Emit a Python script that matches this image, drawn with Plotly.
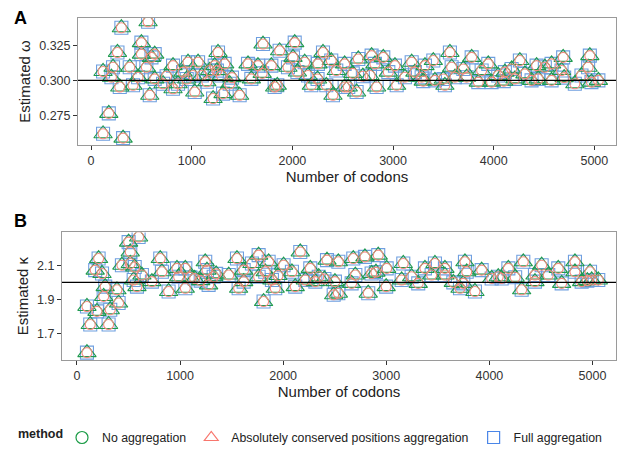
import plotly.graph_objects as go

# ---------------- data ----------------
codons_A = [119, 301, 566, 176, 119, 318, 262, 218, 384, 285, 202, 500, 500, 549, 632, 583, 417, 467, 632,
            814, 814, 715, 963, 1030, 1063, 1013, 914, 864, 1212, 1261, 1311, 1327, 1228, 1377, 1476, 1178,
            1294, 1559, 1592, 1658, 1708, 1791, 1824, 1873, 2023, 2006, 1956, 2188, 2304, 2403, 2386, 2337,
            2122, 2155, 2254, 2436, 2519, 2519, 2655, 2787, 2903, 2638, 2555, 3019, 3036, 2837, 2771, 3185,
            3217, 3317, 3400, 3416, 3515, 3565, 3582, 3698, 3781, 3847, 3946, 3880, 4111, 4178, 4260, 4310,
            4426, 4508, 4442, 4575, 4690, 4674, 4806, 4955, 4938, 4971, 4872, 3979, 4045, 4376, 2820, 2953,
            3118, 3284, 3615, 3731, 4211, 4575, 600, 1100, 1150, 1250, 1700, 1850, 2050, 2250, 2600, 2700,
            3300, 3500, 4100, 4700, 5040, 750, 950, 1400]
omega = [0.3064, 0.3377, 0.3420, 0.2764, 0.2618, 0.2587, 0.3200, 0.3094, 0.3094, 0.2953, 0.3023, 0.3270,
         0.3188, 0.3094, 0.3188, 0.2894, 0.2965, 0.3023, 0.3011, 0.3106, 0.2940, 0.2976, 0.3130, 0.2917,
         0.3130, 0.3035, 0.3059, 0.2976, 0.2870, 0.3200, 0.2905, 0.3118, 0.3106, 0.2976, 0.2894, 0.3071,
         0.3035, 0.3118, 0.3011, 0.3106, 0.3260, 0.3106, 0.2953, 0.3212, 0.3270, 0.3165, 0.3094, 0.2965,
         0.3200, 0.2894, 0.3142, 0.2965, 0.3130, 0.3035, 0.3118, 0.3071, 0.3118, 0.2953, 0.3153, 0.3177,
         0.3165, 0.2917, 0.2953, 0.3106, 0.2965, 0.2953, 0.3035, 0.3130, 0.3059, 0.3106, 0.3142, 0.3000,
         0.2965, 0.3200, 0.3094, 0.3082, 0.3165, 0.2988, 0.3118, 0.3071, 0.3059, 0.3082, 0.3142, 0.3047,
         0.3106, 0.3094, 0.3011, 0.3000, 0.3165, 0.3071, 0.2976, 0.3177, 0.3094, 0.2988, 0.3035, 0.2988,
         0.3035, 0.3000, 0.3118, 0.3059, 0.3023, 0.3023, 0.3023, 0.3023, 0.3011, 0.3118, 0.3165, 0.3035,
         0.2990, 0.3070, 0.3050, 0.2965, 0.3060, 0.3010, 0.3050, 0.3030, 0.2995, 0.3010, 0.2995, 0.3020,
         0.3000, 0.3030, 0.3010, 0.3020]

codons_B = [97, 129, 307, 97, 194, 259, 323, 404, 388, 274, 177, 210, 243, 436, 517, 517, 501, 598, 550, 582,
            630, 727, 808, 824, 889, 970, 1051, 1051, 986, 1244, 1261, 1277, 1326, 1141, 1472, 1552, 1568,
            1617, 1697, 1762, 1810, 1826, 1891, 1923, 2004, 2085, 2166, 2117, 2263, 2345, 2425, 2490, 1762,
            1859, 1617, 2312, 2215, 2680, 2793, 2922, 2825, 2664, 2535, 2535, 2999, 3004, 3165, 3310, 3375,
            3472, 3569, 3569, 3747, 3763, 3780, 3860, 3925, 3715, 4022, 4119, 4184, 4313, 4329, 4442, 4507,
            4571, 4668, 4701, 4830, 4830, 4895, 4976, 4992, 5056, 2700, 2858, 3149, 3440, 4086, 4442, 3246,
            2502, 1100, 1200, 1350, 1950, 2400, 2900, 3650, 4250, 4950, 560]
kappa = [1.586, 1.752, 1.752, 1.858, 1.829, 1.917, 1.839, 1.878, 1.956, 1.975, 2.072, 2.140, 2.052, 2.101,
         2.179, 2.111, 2.237, 2.267, 2.014, 1.975, 2.043, 2.004, 2.140, 2.062, 1.946, 2.082, 2.082, 1.965,
         2.033, 2.121, 2.072, 1.985, 2.033, 2.023, 2.043, 2.140, 1.965, 2.072, 2.111, 2.160, 1.887, 2.062,
         2.014, 1.965, 2.101, 2.062, 2.179, 1.975, 2.082, 2.033, 2.131, 1.927, 2.033, 2.121, 2.004, 2.004,
         2.014, 2.140, 2.150, 2.160, 1.936, 1.994, 1.936, 2.121, 1.975, 2.082, 2.111, 1.994, 2.082, 2.111,
         2.082, 2.043, 1.994, 2.121, 2.062, 1.946, 2.072, 1.965, 2.023, 2.023, 2.082, 1.956, 2.121, 2.043,
         2.101, 2.043, 2.082, 1.994, 2.121, 2.062, 2.004, 2.062, 2.014, 2.014, 2.043, 2.052, 2.014, 2.043,
         2.033, 2.004, 2.033, 2.004, 2.030, 2.010, 2.050, 2.040, 2.020, 2.060, 2.000, 2.030, 2.010, 2.090]

true_omega = 0.3
true_kappa = 2.0
methods = ["No aggregation", "Absolutely conserved positions aggregation", "Full aggregation"]
legend_symbols = ["circle-open", "triangle-up-open", "square-open"]
legend_colors = ["#1a9b45", "#F8766D", "#4a86e8"]

W, H = 617, 452
fig = go.Figure()

# plot marks (overlaid; the three methods give nearly identical estimates)
plot_styles = [
    ("Full aggregation", "square-open", "#6f9fe0", 13),
    ("Absolutely conserved positions aggregation", "triangle-up-open", "#1f9a4e", 16),
    ("No aggregation", "circle-open", "#F28A80", 10),
]
for xs, ys, xa, ya in [(codons_A, omega, "x", "y"), (codons_B, kappa, "x2", "y2")]:
    for name, sym, col, sz in plot_styles:
        fig.add_trace(go.Scatter(x=xs, y=ys, mode="markers", xaxis=xa, yaxis=ya, showlegend=False,
                                 name=name, hoverinfo="skip",
                                 marker=dict(symbol=sym, size=sz, color=col, line=dict(width=1.1, color=col))))

# legend entries
for name, sym, col in zip(methods, legend_symbols, legend_colors):
    fig.add_trace(go.Scatter(x=[None], y=[None], mode="markers", name=name, xaxis="x", yaxis="y",
                             marker=dict(symbol=sym, size=12, color=col, line=dict(width=1.2, color=col))))

axis_common = dict(showline=True, mirror=True, linecolor="#9a9a9a", linewidth=1, ticks="outside",
                   ticklen=4, tickcolor="#333333", showgrid=False, zeroline=False, automargin=False,
                   tickfont=dict(family="Arial", size=12.5, color="#333333"))

fig.update_layout(
    width=W, height=H, margin=dict(l=0, r=0, t=0, b=0),
    paper_bgcolor="white", plot_bgcolor="white",
    font=dict(family="Arial", color="#222222"),
    xaxis=dict(domain=[78 / W, 616 / W], range=[-130, 5215], tickvals=[0, 1000, 2000, 3000, 4000, 5000],
               title=dict(text="Number of codons", font=dict(size=15, color="#222222"), standoff=2),
               anchor="y", **axis_common),
    yaxis=dict(domain=[1 - 147 / H, 1 - 18 / H], range=[0.2535, 0.3448], tickvals=[0.275, 0.300, 0.325],
               ticktext=["0.275", "0.300", "0.325"],
               title=dict(text="Estimated ω", font=dict(size=15, color="#222222"), standoff=4),
               anchor="x", **axis_common),
    xaxis2=dict(domain=[62 / W, 616 / W], range=[-145, 5228], tickvals=[0, 1000, 2000, 3000, 4000, 5000],
                title=dict(text="Number of codons", font=dict(size=15, color="#222222"), standoff=2),
                anchor="y2", **axis_common),
    yaxis2=dict(domain=[1 - 364 / H, 1 - 235 / H], range=[1.543, 2.294], tickvals=[1.7, 1.9, 2.1],
                ticktext=["1.7", "1.9", "2.1"],
                title=dict(text="Estimated κ", font=dict(size=15, color="#222222"), standoff=4),
                anchor="x2", **axis_common),
    legend=dict(orientation="h", x=62 / W, xanchor="left", y=-0.012, yanchor="bottom",
                font=dict(size=12.3, color="#222222"),
                itemwidth=30, tracegroupgap=0, bgcolor="rgba(0,0,0,0)"),
    shapes=[
        dict(type="line", xref="x domain", yref="y", x0=0, x1=1, y0=true_omega, y1=true_omega,
             line=dict(color="black", width=1.3)),
        dict(type="line", xref="x2 domain", yref="y2", x0=0, x1=1, y0=true_kappa, y1=true_kappa,
             line=dict(color="black", width=1.3)),
    ],
    annotations=[
        dict(text="<b>A</b>", x=12 / W, y=1 - 18 / H, xref="paper", yref="paper", showarrow=False,
             xanchor="left", yanchor="middle", font=dict(size=18, color="black")),
        dict(text="<b>B</b>", x=12 / W, y=1 - 223 / H, xref="paper", yref="paper", showarrow=False,
             xanchor="left", yanchor="middle", font=dict(size=18, color="black")),
        dict(text="<b>method</b>", x=16 / W, y=1 - 439 / H, xref="paper", yref="paper", showarrow=False,
             xanchor="left", yanchor="middle", font=dict(size=12.5, color="#222222")),
    ],
)

fig.write_html("out.html", config={"displayModeBar": False},
               post_script="document.body.style.margin='0px';")
